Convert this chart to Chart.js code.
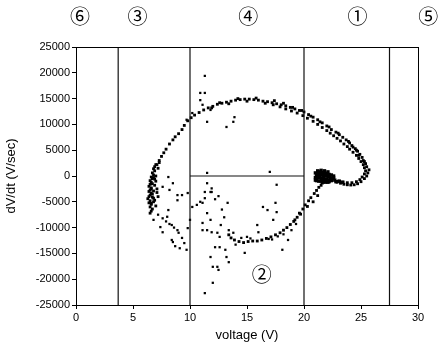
<!DOCTYPE html>
<html>
<head>
<meta charset="utf-8">
<script src="https://cdn.jsdelivr.net/npm/chart.js@4/dist/chart.umd.min.js"></script>
<style>
  html, body { margin: 0; padding: 0; background: #fff; }
  #wrap { width: 438px; height: 347px; }
</style>
</head>
<body>
<div id="wrap"><canvas id="c"></canvas></div>
<script>
// outer loop (dense arc)
const loopV = [22.9,23.2,23.5,23.8,24.1,24.4,24.7,25.0,25.3,25.5,25.6,25.7,25.5,25.4,25.2,25.1,24.9,24.7,24.5,24.2,24.0,23.7,23.4,23.1,22.8,22.4,22.0,21.6,21.2,20.8,20.4,20.0,19.6,19.2,18.8,18.4,18.0,17.6,17.2,16.8,16.4,16.0,15.6,15.2,14.8,14.4,14.0,13.6,13.2,12.8,12.4,12.0,11.6,11.2,10.8,10.4,10.1,9.8,9.5,9.3,9.0,8.7,8.5,8.2,7.9,7.7,7.5,7.3,7.1,
  24.3,24.8,25.3,24.6,23.9,23.0,22.2,21.4,20.6,19.8,19.0,18.2,17.4,16.6,15.8,15.0,14.2,13.4,12.6,11.9,
  23.0,23.4,23.8,24.2,24.6,24.9,25.1,25.3,25.4,25.3,25.2,25.0,24.8,24.6,24.3,24.0,23.8,23.5,23.2,22.9,22.6,22.3,22.0,21.6,21.2,20.8,20.3,19.9,19.4,18.9,18.4,17.9,17.3,
  21.3,21.1,20.9,20.6,20.4,20.1,19.9,19.6,19.4,19.1,18.8,18.5,18.2,17.9,17.5,17.1,16.7,16.3,15.9,15.5,15.1,14.7,14.3,13.9,13.6,13.4,
  21.5,21.2,20.8,20.3,19.7,19.2];
const loopDv = [-1200,-1400,-1600,-1700,-1750,-1700,-1500,-1100,-500,0,600,1200,1800,2400,3000,3600,4200,4800,5300,5900,6400,7000,7500,8000,8500,9000,9700,10300,10900,11400,11900,12400,12700,13000,13300,13600,13800,14000,14200,14400,14500,14700,14800,14900,14900,14800,14700,14500,14300,14100,13900,13500,13200,12800,12300,11800,11300,10700,9800,9000,8200,7600,7000,6200,5200,4500,3800,3000,2200,
  5600,4000,2800,5000,6700,8300,9500,10500,11600,12700,13300,14100,14600,14100,15100,14500,15000,14000,14200,13200,
  -1000,-1200,-1300,-1300,-1100,-700,-200,400,1000,1600,2200,2800,3400,4000,4600,5200,5700,6200,6800,7300,7800,8300,8800,9400,10000,10600,11200,11700,12200,12600,13000,13400,13800,
  -2200,-2800,-3400,-4200,-4800,-5600,-6400,-7200,-8000,-8800,-9400,-10000,-10500,-11000,-11400,-11800,-12100,-12400,-12600,-12600,-12700,-12900,-12700,-12400,-12000,-11400,
  -1800,-3800,-5000,-5900,-7400,-8500];

// dense blob near 21-22 V
const blobV = [21.0,21.2,21.4,21.6,21.8,22.0,22.2,22.4,22.6,21.1,21.3,21.5,21.7,21.9,22.1,22.3,22.5,21.0,21.2,21.4,21.6,21.8,22.0,22.2,22.4,21.1,21.3,21.5,21.7,21.9,22.1,21.3,21.5,21.7,21.9,22.7,22.8,
  21.2,21.5,21.8,22.1,21.4,21.7,22.0,22.3,21.0,21.6,22.2,22.6,23.1,23.4,21.9];
const blobDv = [600,700,800,700,600,500,300,200,0,200,300,200,100,0,-100,-300,-500,-300,-400,-300,-500,-600,-700,-800,-900,-900,-1000,-1000,-1100,-1200,-1200,0,-600,-400,300,-800,-1100,
  1000,1100,1000,800,450,400,100,-600,-800,-1300,-1100,-400,-1000,-1200,-900];

// dense left edge near 6.5-7 V
const edgeV = [7.0,6.9,6.8,6.9,6.7,6.8,6.6,6.7,6.5,6.6,6.5,6.4,6.6,6.5,6.4,6.6,6.5,6.4,6.3,6.5,6.4,6.6,6.5,6.7,6.6,6.5,6.8,6.7,7.0,7.1,7.2,7.0,7.2,7.3,6.9,7.1,6.8,7.0,
  6.9,6.7,6.6,6.8,6.7,6.9,6.6,6.8];
const edgeDv = [2200,1800,1400,1000,600,200,-200,-500,-900,-1200,-1600,-2000,-2300,-2700,-3000,-3300,-3700,-4000,-4400,-4800,-5200,-5500,-6000,-6400,-6800,-7200,-5000,-3500,-1000,-2500,-4000,0,1500,2600,-1800,-3200,-4300,-5800,
  -600,-1500,-2500,-2900,-4100,-4700,-5300,-300];

// scattered points
const scatV = [8.1,8.5,7.6,8.2,8.9,9.3,8.9,9.8,10.2,10.0,9.8,9.7,9.1,8.5,8.4,7.6,7.4,6.8,8.0,8.4,8.9,8.1,10.6,10.9,11.3,11.5,11.8,11.8,11.9,11.5,11.1,11.8,11.3,12.4,12.6,
  11.3,11.9,12.5,13.3,11.1,11.5,11.1,12.4,12.6,12.2,13.1,13.2,13.4,12.0,12.5,12.0,17.6,16.4,16.8,17.5,17.6,17.3,15.9,16.0,18.1,14.8,18.6,13.8,
  11.3,10.9,11.3,10.9,11.1,11.8,11.5,10.2,9.7,13.9,13.8,13.2,17.0,11.5,
  7.2,7.6,7.9,8.2,8.6,9.0,9.3,8.7,9.5,
  11.9,12.2,12.8,13.0,12.7,13.4,14.0,14.5,15.0,15.3,16.9,17.2,17.7,18.2,19.3,18.9];
const scatDv = [-200,-1400,-2100,-2700,-3700,-3700,-4700,-3300,-6000,-8500,-10100,-14300,-14000,-12800,-12400,-10900,-9900,-8500,-7900,-9500,-10500,-6600,-5600,-5000,-4300,-1400,-3100,-8500,-10900,-10500,-9100,-15700,-22700,-17600,-13800,
  -3100,-3100,-3900,-5200,-5200,-7200,-10500,-11000,-11800,-13800,-14300,-15700,-16700,-17600,-18200,-20700,-1700,-6000,-6600,-5200,-7000,-8500,-9500,-10900,-14300,-14900,-12400,-11000,
  19400,16100,16100,14700,13800,12800,10500,12200,10900,11400,10500,9500,800,600,
  -7500,-8200,-8800,-9300,-10000,-11000,-12000,-13600,-13000,
  -2400,-4500,-6500,-8000,-9500,-10500,-13300,-12000,-11800,-12100,-12200,-12300,-11700,-11300,-9300,-10500];

// region markers
const vLines = [3.7, 10, 20, 27.5];
const hLine = { from: 10, to: 20, y: 0 };
const topMarks = [['⑥', 0.35], ['③', 5.4], ['④', 15.1], ['①', 24.7], ['⑤', 30.9]];
const innerMark = ['②', 16.3, -19000];

const pts = (xs, ys) => xs.map((x, i) => ({ x: x, y: ys[i] }));

const datasets = [];
vLines.forEach(v => datasets.push({
  data: [{ x: v, y: -25000 }, { x: v, y: 25000 }],
  showLine: true, borderColor: '#111', borderWidth: 1.2, pointRadius: 0
}));
datasets.push({
  data: [{ x: hLine.from, y: hLine.y }, { x: hLine.to, y: hLine.y }],
  showLine: true, borderColor: '#111', borderWidth: 1.2, pointRadius: 0
});
[[loopV, loopDv, 2], [blobV, blobDv, 2.4], [edgeV, edgeDv, 2], [scatV, scatDv, 1.6]].forEach(([xs, ys, r]) => datasets.push({
  data: pts(xs, ys),
  pointStyle: 'rect', pointRadius: r, backgroundColor: '#000', borderWidth: 0
}));

const marks = {
  id: 'marks',
  afterDraw(chart) {
    const { ctx, chartArea, scales } = chart;
    ctx.save();
    ctx.strokeStyle = '#000';
    ctx.lineWidth = 1;
    ctx.strokeRect(chartArea.left + 0.5, chartArea.top + 0.5, chartArea.width, chartArea.height);
    ctx.fillStyle = '#000';
    ctx.font = '20px "Noto Sans CJK JP", "DejaVu Sans", sans-serif';
    ctx.textAlign = 'center';
    ctx.textBaseline = 'middle';
    topMarks.forEach(([t, v]) => ctx.fillText(t, scales.x.getPixelForValue(v), 16));
    ctx.fillText(innerMark[0], scales.x.getPixelForValue(innerMark[1]), scales.y.getPixelForValue(innerMark[2]));
    ctx.restore();
  }
};

new Chart(document.getElementById('c'), {
  type: 'scatter',
  data: { datasets: datasets },
  plugins: [marks],
  options: {
    responsive: true,
    maintainAspectRatio: false,
    animation: false,
    layout: { padding: { top: 47, right: 20, left: 0, bottom: 0 } },
    plugins: { legend: { display: false }, tooltip: { enabled: false } },
    scales: {
      x: {
        min: 0, max: 30,
        afterFit: s => { s.height = 42; },
        ticks: { stepSize: 5, color: '#000', font: { family: 'Liberation Sans', size: 11 }, padding: 2, maxRotation: 0 },
        grid: { drawOnChartArea: false, tickLength: 4, tickColor: '#000' },
        border: { color: '#000' },
        title: { display: true, text: 'voltage (V)', color: '#000', font: { family: 'Liberation Sans', size: 13 }, padding: { top: 4 } }
      },
      y: {
        min: -25000, max: 25000,
        afterFit: s => { s.width = 76; },
        ticks: { stepSize: 5000, color: '#000', font: { family: 'Liberation Sans', size: 11 }, padding: 2, callback: v => String(v) },
        grid: { drawOnChartArea: false, tickLength: 4, tickColor: '#000' },
        border: { color: '#000' },
        title: { display: true, text: 'dV/dt (V/sec)', color: '#000', font: { family: 'Liberation Sans', size: 13 }, padding: { bottom: 2 } }
      }
    }
  }
});
</script>
</body>
</html>
